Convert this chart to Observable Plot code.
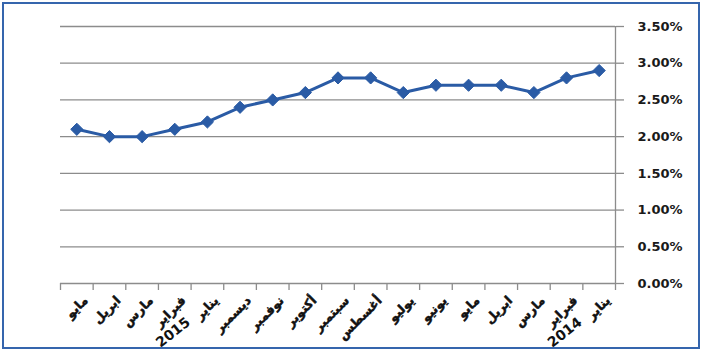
<!DOCTYPE html>
<html>
<head>
<meta charset="utf-8">
<script src="https://cdn.jsdelivr.net/npm/d3@7"></script>
<script src="https://cdn.jsdelivr.net/npm/@observablehq/plot@0.6"></script>
<style>
  html, body { margin: 0; padding: 0; background: #fff; }
  #wrap { position: relative; width: 702px; height: 351px; overflow: hidden; background: #fff; }
  #frame { position: absolute; left: 2px; top: 2px; width: 694px; height: 343px; border: 2px solid #3565ad; pointer-events: none; }
  #chart { position: absolute; left: 0; top: 0; }
</style>
</head>
<body>
<div id="wrap"><div id="chart"></div><div id="frame"></div></div>
<script>
// Chronological order (Jan 2014 -> May 2015); the axis runs right-to-left
const months = ["يناير","فبراير","مارس","ابريل","مايو","يونيو","يوليو","أغسطس","سبتمبر","أكتوبر","نوفمبر","ديسمبر","يناير","فبراير","مارس","ابريل","مايو"];
const years  = ["2014","","","","","","","","","","","","2015","","","",""];
const values = [2.9, 2.8, 2.6, 2.7, 2.7, 2.7, 2.6, 2.8, 2.8, 2.6, 2.5, 2.4, 2.2, 2.1, 2.0, 2.0, 2.1]; // percent
const yTicks = [0, 0.5, 1, 1.5, 2, 2.5, 3, 3.5]; // percent

const data = months.map((m, i) => ({i, month: m, year: years[i], v: values[i] / 100}));
const boundaries = d3.range(months.length + 1).map(k => k - 0.5);
const yt = yTicks.map(t => t / 100);

const lineColor = "#2a5ba5";
const gridColor = "#8c8c8c";

const chart = Plot.plot({
  width: 702,
  height: 351,
  marginLeft: 60,
  marginRight: 87,
  marginTop: 26,
  marginBottom: 68,
  style: {fontFamily: "'DejaVu Sans', sans-serif", background: "transparent", overflow: "visible"},
  x: {type: "linear", domain: [-0.5, months.length - 0.5], reverse: true},
  y: {domain: [0, 0.035]},
  marks: [
    Plot.gridY(yt, {stroke: gridColor, strokeOpacity: 1, strokeWidth: 1.3}),
    Plot.axisY(yt, {
      anchor: "right", tickSize: 8, tickPadding: 14,
      tickFormat: d => (d * 100).toFixed(2) + "%",
      stroke: gridColor, strokeWidth: 1.3, fill: "#1a1a1a",
      fontWeight: "bold", fontSize: 13, label: null
    }),
    Plot.ruleX([-0.5], {stroke: gridColor, strokeWidth: 1.3}),
    Plot.axisX(boundaries, {
      anchor: "bottom", tickSize: 7, tickFormat: () => "",
      stroke: gridColor, strokeWidth: 1.3, label: null
    }),
    Plot.text(data, {
      x: "i", y: () => 0, text: "month", rotate: -45, textAnchor: "end",
      dx: 9, dy: 15, fontWeight: "bold", fontSize: 12.5, fill: "#111",
      stroke: "#111", strokeWidth: 0.5
    }),
    Plot.text(data.filter(d => d.year), {
      x: "i", y: () => 0, text: "year", rotate: -38, textAnchor: "end",
      dx: -19, dy: 37, fontWeight: "bold", fontSize: 14, fill: "#111"
    }),
    Plot.line(data, {x: "i", y: "v", stroke: lineColor, strokeWidth: 3}),
    Plot.dot(data, {x: "i", y: "v", symbol: "diamond2", r: 5.5, fill: lineColor, stroke: lineColor, strokeWidth: 1})
  ]
});
document.getElementById("chart").appendChild(chart);
</script>
</body>
</html>
